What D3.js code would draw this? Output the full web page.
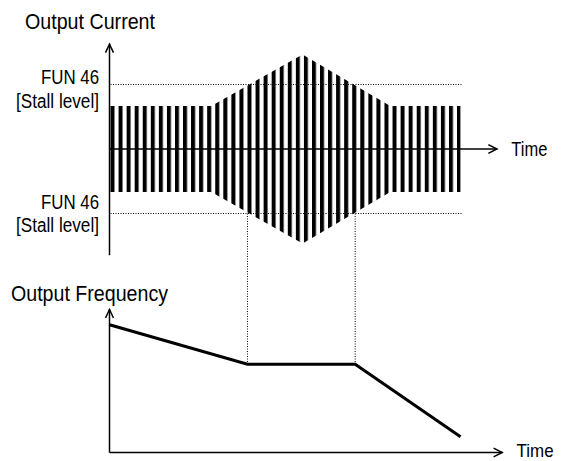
<!DOCTYPE html>
<html>
<head>
<meta charset="utf-8">
<script src="https://cdn.jsdelivr.net/npm/d3@7/dist/d3.min.js"></script>
<style>
html,body{margin:0;padding:0;background:#fff;}
svg{display:block;}
text{font-family:"Liberation Sans Narrow","Arial Narrow","Liberation Sans",Arial,sans-serif;fill:#000;}
</style>
</head>
<body>
<svg id="chart" width="565" height="461"></svg>
<script>
// ---- data ----
const timeDomain = [0, 100];
const envelopeTimes = [0, 29, 55, 80, 100];          // output-current envelope breakpoints
const envelopeAmps  = [100, 100, 220, 100, 100];     // current amplitude (% of rated)
const stallLevel = 150;                               // FUN 46 stall level (%)
const stallTimes = [39.3, 70];                        // where current hits the stall level
const freqTimes  = [0, 39.3, 70, 100];
const freqValues = [89, 61.5, 61.5, 11];              // output frequency (% of max)
const labels = {
  current: "Output Current",
  frequency: "Output Frequency",
  stall1: "FUN 46",
  stall2: "[Stall level]",
  time: "Time"
};

// ---- scales ----
const svg = d3.select("#chart");
const x = d3.scaleLinear().domain(timeDomain).range([109.5, 460.5]);
const yCur = d3.scaleLinear().domain([-250, 250]).range([256.5, 41.5]);
const yFreq = d3.scaleLinear().domain([0, 100]).range([452.5, 309]);

// ---- stripe pattern for the AC waveform ----
const stripeW = 4;
const x0 = x(0) + 1, x1 = x(100) + 0.5;
const period = (x1 - x0 - stripeW) / 43;
const defs = svg.append("defs");
const pat = defs.append("pattern")
  .attr("id", "stripes")
  .attr("patternUnits", "userSpaceOnUse")
  .attr("x", x0).attr("y", 0)
  .attr("width", period).attr("height", 461);
pat.append("rect").attr("x", 0).attr("y", 0)
  .attr("width", stripeW).attr("height", 461).attr("fill", "#000");

const envData = envelopeTimes.map((t, i) => ({t, a: envelopeAmps[i]}));
const area = d3.area()
  .x(d => x(d.t))
  .y0(d => yCur(-d.a))
  .y1(d => yCur(d.a));
svg.append("path")
  .datum(envData)
  .attr("d", area)
  .attr("fill", "url(#stripes)");

// ---- stall level dotted lines ----
[stallLevel, -stallLevel].forEach(v => {
  svg.append("line")
    .attr("x1", x(0) + 1).attr("x2", x(100) + 1)
    .attr("y1", yCur(v)).attr("y2", yCur(v))
    .attr("stroke", "#000").attr("stroke-width", 1)
    .attr("stroke-dasharray", "1,1.5");
});

// ---- vertical dotted connectors ----
stallTimes.forEach(t => {
  svg.append("line")
    .attr("x1", x(t)).attr("x2", x(t))
    .attr("y1", yCur(-stallLevel)).attr("y2", yFreq(freqValues[1]))
    .attr("stroke", "#000").attr("stroke-width", 1)
    .attr("stroke-dasharray", "1,1.5");
});

// ---- axes with open arrowheads ----
function arrowV(xp, yTop, yBot) {
  svg.append("line").attr("x1", xp).attr("x2", xp).attr("y1", yTop).attr("y2", yBot)
    .attr("stroke", "#000").attr("stroke-width", 1.5);
  svg.append("path")
    .attr("d", `M${xp-4},${yTop+9}L${xp},${yTop+0.5}L${xp+4},${yTop+9}`)
    .attr("fill", "none").attr("stroke", "#000").attr("stroke-width", 1.5);
}
function arrowH(xl, xr, yp) {
  svg.append("line").attr("x1", xl).attr("x2", xr).attr("y1", yp).attr("y2", yp)
    .attr("stroke", "#000").attr("stroke-width", 1.5);
  svg.append("path")
    .attr("d", `M${xr-9},${yp-4.3}L${xr-0.5},${yp}L${xr-9},${yp+4.3}`)
    .attr("fill", "none").attr("stroke", "#000").attr("stroke-width", 1.5);
}
// current chart
arrowV(x(0), yCur(245), yCur(-247));
arrowH(x(0), x(110.5), yCur(0));
// frequency chart
arrowV(x(0), yFreq(100), yFreq(0));
arrowH(x(0), x(112), yFreq(0));

// ---- frequency line ----
const freqData = freqTimes.map((t, i) => ({t, v: freqValues[i]}));
svg.append("path")
  .datum(freqData)
  .attr("d", d3.line().x(d => x(d.t)).y(d => yFreq(d.v)))
  .attr("fill", "none").attr("stroke", "#000").attr("stroke-width", 3)
  .attr("stroke-linejoin", "miter");

// ---- text ----
function label(txt, xp, yp, size, anchor, len) {
  const t = svg.append("text").attr("x", xp).attr("y", yp)
    .attr("font-size", size).attr("text-anchor", anchor).text(txt);
  if (len) t.attr("textLength", len).attr("lengthAdjust", "spacingAndGlyphs");
  return t;
}
label(labels.current, 25, 29, 22, "start", 130);
label(labels.stall1, 99, yCur(stallLevel) - 1, 20, "end", 58);
label(labels.stall2, 99, yCur(stallLevel) + 23, 20, "end", 83);
label(labels.stall1, 99, yCur(-stallLevel) - 5, 20, "end", 58);
label(labels.stall2, 99, yCur(-stallLevel) + 18, 20, "end", 83);
label(labels.time, x(110.5) + 14, yCur(0) + 7, 20, "start", 36);
label(labels.frequency, 11, 301, 22, "start", 157);
label(labels.time, x(112) + 14, yFreq(0) + 4.5, 19, "start", 37);
</script>
</body>
</html>
